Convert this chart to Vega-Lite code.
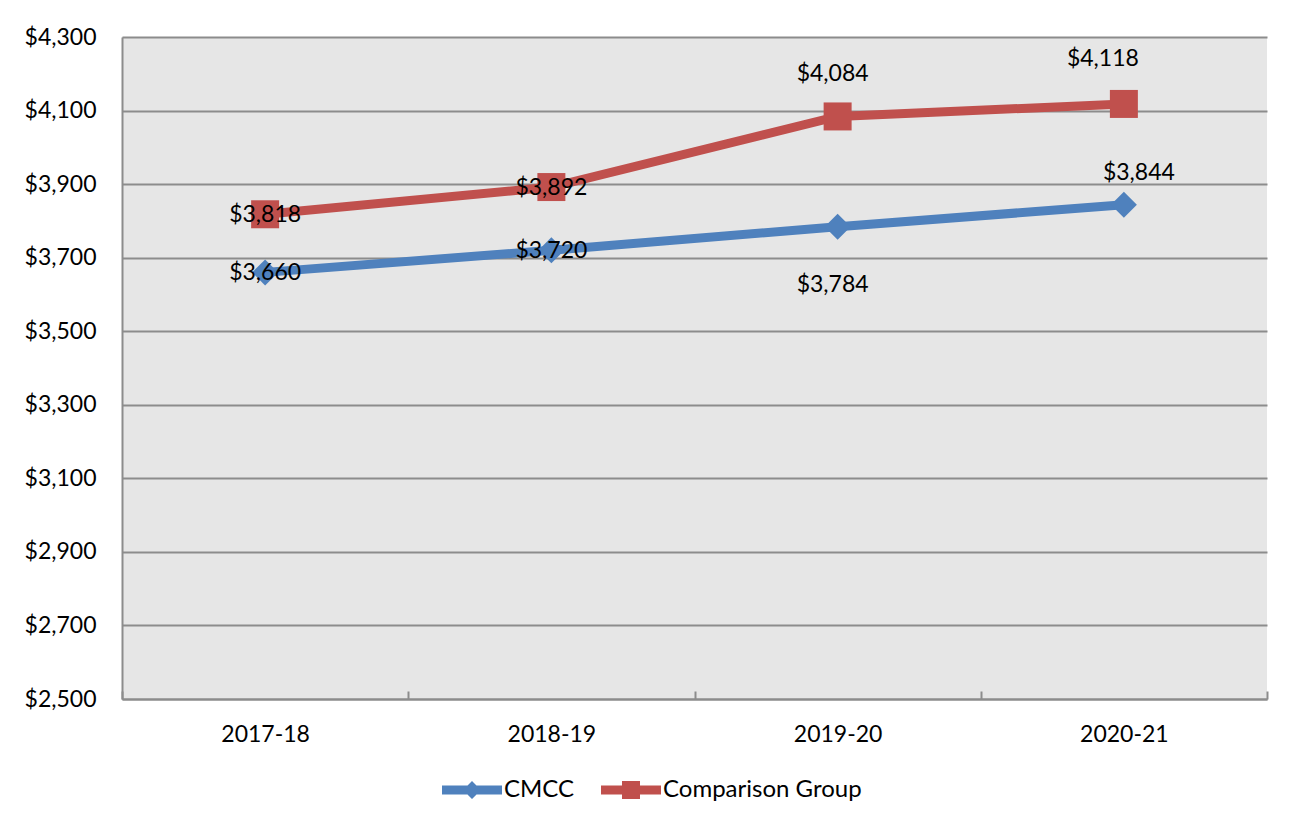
{
  "$schema": "https://vega.github.io/schema/vega-lite/v6.json",
  "autosize": {"type": "none"},
  "padding": {"left": 122, "top": 37, "right": 25, "bottom": 127},
  "width": 1145,
  "height": 662,
  "background": "white",
  "config": {
    "font": "Lato",
    "view": {"fill": "#E6E6E6", "stroke": null},
    "axis": {"labelFont": "Lato", "labelFontSize": 23, "labelColor": "black", "domainColor": "#8C8C8C", "domainWidth": 2, "gridColor": "#8C8C8C", "gridWidth": 2, "tickColor": "#8C8C8C", "tickWidth": 2, "title": null}
  },
  "data": {
    "values": [
      {"year": "2017-18", "series": "CMCC", "value": 3660},
      {"year": "2018-19", "series": "CMCC", "value": 3720},
      {"year": "2019-20", "series": "CMCC", "value": 3784},
      {"year": "2020-21", "series": "CMCC", "value": 3844},
      {"year": "2017-18", "series": "Comparison Group", "value": 3818},
      {"year": "2018-19", "series": "Comparison Group", "value": 3892},
      {"year": "2019-20", "series": "Comparison Group", "value": 4084},
      {"year": "2020-21", "series": "Comparison Group", "value": 4118}
    ]
  },
  "encoding": {
    "x": {
      "field": "year", "type": "nominal", "bandPosition": 0.5,
      "scale": {"type": "band", "paddingInner": 0, "paddingOuter": 0},
      "axis": {"labelAngle": 0, "tickBand": "extent", "tickSize": -8, "labelPadding": 32, "grid": false, "domain": true}
    },
    "y": {
      "field": "value", "type": "quantitative",
      "scale": {"domain": [2500, 4300], "nice": false, "zero": false},
      "axis": {"values": [2500, 2700, 2900, 3100, 3300, 3500, 3700, 3900, 4100, 4300], "format": "$,.0f", "ticks": false, "labelPadding": 26, "grid": true}
    }
  },
  "layer": [
    {
      "mark": {"type": "line", "strokeWidth": 9},
      "encoding": {
        "color": {
          "field": "series", "type": "nominal",
          "scale": {"domain": ["CMCC", "Comparison Group"], "range": ["#4F81BD", "#C0504D"]},
          "legend": {
            "title": null, "orient": "none", "direction": "horizontal",
            "legendX": 320, "legendY": 723, "padding": 0,
            "symbolSize": 3600, "labelFont": "Lato", "labelFontSize": 24, "labelColor": "black",
            "labelOffset": 2, "columnPadding": 26, "labelLimit": 500,
            "encode": {
              "symbols": {
                "update": {
                  "shape": {"signal": "datum.value === 'CMCC' ? 'M-1,-0.15H1V0.15H-1Z M0,-0.3L0.3,0L0,0.3L-0.3,0Z' : 'M-1,-0.15H1V0.15H-1Z M-0.3,-0.3H0.3V0.3H-0.3Z'"},
                  "size": {"value": 3600},
                  "fill": {"signal": "datum.value === 'CMCC' ? '#4F81BD' : '#C0504D'"},
                  "stroke": {"value": "transparent"},
                  "strokeWidth": {"value": 0},
                  "opacity": {"value": 1},
                  "fillOpacity": {"value": 1}
                }
              }
            }
          }
        }
      }
    },
    {
      "mark": {"type": "point", "filled": true, "opacity": 1, "strokeWidth": 0},
      "encoding": {
        "color": {"field": "series", "type": "nominal", "legend": null},
        "shape": {"condition": {"test": "datum.series === 'CMCC'", "value": "diamond"}, "value": "square"},
        "size": {"condition": {"test": "datum.series === 'CMCC'", "value": 676}, "value": 784}
      }
    },
    {
      "transform": [{"filter": "datum.year === '2017-18' || datum.year === '2018-19'"}],
      "mark": {"type": "text", "fontSize": 23, "font": "Lato", "color": "black", "baseline": "middle", "dy": 1},
      "encoding": {"text": {"field": "value", "type": "quantitative", "format": "$,.0f"}}
    },
    {
      "transform": [{"filter": "datum.year === '2019-20' && datum.series === 'Comparison Group'"}],
      "mark": {"type": "text", "fontSize": 23, "font": "Lato", "color": "black", "baseline": "middle", "dx": -5, "dy": -42},
      "encoding": {"text": {"field": "value", "type": "quantitative", "format": "$,.0f"}}
    },
    {
      "transform": [{"filter": "datum.year === '2019-20' && datum.series === 'CMCC'"}],
      "mark": {"type": "text", "fontSize": 23, "font": "Lato", "color": "black", "baseline": "middle", "dx": -5, "dy": 58},
      "encoding": {"text": {"field": "value", "type": "quantitative", "format": "$,.0f"}}
    },
    {
      "transform": [{"filter": "datum.year === '2020-21' && datum.series === 'Comparison Group'"}],
      "mark": {"type": "text", "fontSize": 23, "font": "Lato", "color": "black", "baseline": "middle", "dx": -21, "dy": -45},
      "encoding": {"text": {"field": "value", "type": "quantitative", "format": "$,.0f"}}
    },
    {
      "transform": [{"filter": "datum.year === '2020-21' && datum.series === 'CMCC'"}],
      "mark": {"type": "text", "fontSize": 23, "font": "Lato", "color": "black", "baseline": "middle", "dx": 15, "dy": -32},
      "encoding": {"text": {"field": "value", "type": "quantitative", "format": "$,.0f"}}
    }
  ]
}
